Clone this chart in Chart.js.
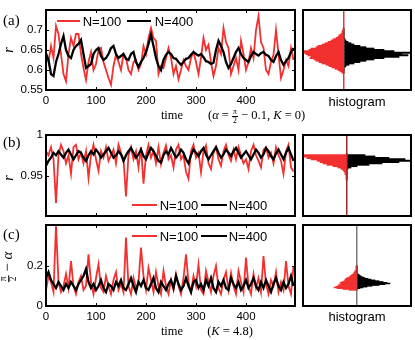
<!DOCTYPE html>
<html>
<head>
<meta charset="utf-8">
<script src="https://cdn.jsdelivr.net/npm/chart.js@4.4.0/dist/chart.umd.min.js"></script>
<style>
body { margin: 0; width: 415px; height: 340px; overflow: hidden; background: #fff; position: relative; font-family: "Liberation Sans", Arial, sans-serif; }
canvas { position: absolute; }
.t { position: absolute; white-space: nowrap; line-height: 1; color: #000; }
.serif { font-family: "Liberation Serif", "Times New Roman", serif; }
.c { transform: translate(-50%, -50%); }
.rot { transform: translate(-50%, -50%) rotate(-90deg); }
.leg { position: absolute; height: 0; }
.frac { display: inline-flex; flex-direction: column; vertical-align: middle; font-size: 0.62em; text-align: center; line-height: 1; }
.frac span:first-child { border-bottom: 0.8px solid #000; padding: 0 1px; }
</style>
</head>
<body>
<canvas id="seriesA" width="300" height="110" style="left:0;top:0"></canvas>
<canvas id="seriesB" width="300" height="111" style="left:0;top:125px"></canvas>
<canvas id="seriesC" width="300" height="111" style="left:0;top:215px"></canvas>
<canvas id="histA" width="118" height="90" style="left:298px;top:5px"></canvas>
<canvas id="histB" width="118" height="91" style="left:298px;top:130px"></canvas>
<canvas id="histC" width="118" height="91" style="left:298px;top:220px"></canvas>

<!-- panel letters and axis titles -->
<div class="t serif" style="left:3px;top:13px;font-size:15px">(a)</div>
<div class="t serif" style="left:3px;top:135px;font-size:15px">(b)</div>
<div class="t serif" style="left:3px;top:227px;font-size:15px">(c)</div>
<div class="t serif rot" style="left:9px;top:50px;font-size:14px;font-style:italic">r</div>
<div class="t serif rot" style="left:9px;top:178px;font-size:14px;font-style:italic">r</div>
<div class="t serif rot" style="left:9px;top:267px;font-size:15px"><span class="frac"><span>π</span><span>2</span></span> − <i>α</i></div>

<div class="t serif c" style="left:172px;top:115px;font-size:12.5px">time</div>
<div class="t serif" style="left:208px;top:108px;font-size:12.5px">(<i>α</i> = <span class="frac"><span>π</span><span>2</span></span> − 0.1, <i>K</i> = 0)</div>
<div class="t serif c" style="left:172px;top:331px;font-size:12.5px">time</div>
<div class="t serif c" style="left:230px;top:331px;font-size:12.5px">(<i>K</i> = 4.8)</div>
<div class="t c" style="left:357px;top:101px;font-size:13px">histogram</div>
<div class="t c" style="left:357px;top:316px;font-size:13px">histogram</div>

<!-- legends -->
<div class="leg" style="left:57px;top:20px;width:23px;border-top:2px solid #f23030"></div>
<div class="t c" style="left:102px;top:21px;font-size:13px">N=100</div>
<div class="leg" style="left:127px;top:20px;width:24px;border-top:2.5px solid #000"></div>
<div class="t c" style="left:174px;top:21px;font-size:13px">N=400</div>

<div class="leg" style="left:132px;top:204px;width:25px;border-top:2px solid #f23030"></div>
<div class="t c" style="left:179px;top:205px;font-size:13px">N=100</div>
<div class="leg" style="left:201px;top:204px;width:26px;border-top:2.5px solid #000"></div>
<div class="t c" style="left:248px;top:205px;font-size:13px">N=400</div>

<div class="leg" style="left:132px;top:235px;width:25px;border-top:2px solid #f23030"></div>
<div class="t c" style="left:179px;top:236px;font-size:13px">N=100</div>
<div class="leg" style="left:201px;top:235px;width:26px;border-top:2.5px solid #000"></div>
<div class="t c" style="left:248px;top:236px;font-size:13px">N=400</div>

<script>
// time axis: one sample every 5 time units
const times = Array.from({ length: 100 }, (_, i) => i * 5);
const xTicks = [0, 100, 200, 300, 400];

// (a) order parameter r, alpha = pi/2 - 0.1, K = 0
const redA = [0.645,0.62,0.66,0.63,0.71,0.69,0.64,0.59,0.572,0.64,
  0.68,0.66,0.69,0.69,0.64,0.605,0.575,0.62,0.645,0.6,
  0.615,0.65,0.655,0.62,0.6,0.58,0.563,0.61,0.638,0.62,
  0.6,0.64,0.63,0.6,0.59,0.62,0.625,0.6,0.615,0.66,
  0.64,0.68,0.705,0.68,0.673,0.59,0.61,0.605,0.63,0.655,
  0.63,0.59,0.61,0.577,0.6,0.625,0.61,0.6,0.63,0.645,
  0.62,0.59,0.63,0.68,0.65,0.663,0.62,0.585,0.61,0.655,
  0.64,0.705,0.67,0.655,0.59,0.61,0.63,0.6,0.673,0.64,
  0.6,0.62,0.655,0.63,0.7,0.735,0.67,0.655,0.6,0.59,
  0.62,0.638,0.7,0.64,0.58,0.6,0.625,0.61,0.655,0.625];
const blackA = [0.64,0.625,0.59,0.585,0.62,0.64,0.665,0.685,0.65,0.635,
  0.63,0.65,0.66,0.665,0.675,0.64,0.605,0.61,0.615,0.64,
  0.65,0.655,0.635,0.625,0.63,0.64,0.655,0.66,0.64,0.63,
  0.635,0.64,0.628,0.625,0.64,0.645,0.62,0.608,0.62,0.63,
  0.645,0.665,0.688,0.66,0.63,0.61,0.6,0.625,0.638,0.645,
  0.64,0.63,0.628,0.62,0.613,0.62,0.628,0.63,0.638,0.645,
  0.64,0.636,0.64,0.632,0.622,0.62,0.615,0.618,0.65,0.673,
  0.66,0.645,0.62,0.605,0.615,0.63,0.645,0.655,0.64,0.63,
  0.625,0.62,0.635,0.645,0.64,0.636,0.642,0.645,0.638,0.635,
  0.625,0.62,0.635,0.645,0.625,0.613,0.622,0.63,0.645,0.655];
const yTicksA = [0.55, 0.6, 0.65, 0.7];

// (b) order parameter r
const redB = [0.98,0.975,0.985,0.97,0.916,0.975,0.988,0.98,0.965,0.975,
  0.952,0.985,0.988,0.97,0.978,0.965,0.98,0.947,0.975,0.988,
  0.97,0.956,0.98,0.972,0.985,0.968,0.975,0.982,0.965,0.988,
  0.978,0.97,0.924,0.975,0.985,0.97,0.98,0.96,0.985,0.94,
  0.975,0.988,0.972,0.98,0.965,0.985,0.964,0.978,0.987,0.97,
  0.975,0.96,0.982,0.988,0.97,0.975,0.955,0.946,0.98,0.988,
  0.972,0.978,0.954,0.98,0.987,0.965,0.958,0.978,0.985,0.97,
  0.962,0.98,0.988,0.975,0.968,0.982,0.97,0.985,0.975,0.965,
  0.97,0.958,0.98,0.988,0.975,0.968,0.96,0.982,0.985,0.972,
  0.978,0.965,0.985,0.975,0.968,0.952,0.98,0.988,0.96,0.955];
const blackB = [0.962,0.968,0.972,0.978,0.975,0.98,0.976,0.972,0.978,0.982,
  0.976,0.97,0.975,0.98,0.978,0.972,0.968,0.975,0.98,0.976,
  0.982,0.978,0.972,0.976,0.98,0.984,0.978,0.972,0.975,0.98,
  0.976,0.968,0.975,0.98,0.984,0.978,0.972,0.976,0.982,0.974,
  0.97,0.978,0.984,0.98,0.974,0.968,0.966,0.975,0.98,0.976,
  0.984,0.978,0.972,0.976,0.982,0.978,0.97,0.965,0.975,0.982,
  0.978,0.974,0.98,0.984,0.976,0.97,0.975,0.98,0.985,0.978,
  0.972,0.976,0.982,0.978,0.974,0.98,0.984,0.978,0.972,0.976,
  0.98,0.975,0.97,0.976,0.982,0.978,0.972,0.976,0.984,0.98,
  0.974,0.97,0.977,0.982,0.976,0.97,0.978,0.984,0.976,0.968];
const yTicksB = [0.95, 1];

// (c) pi/2 - alpha, K = 4.8
const redC = [0.08,0.15,0.12,0.07,0.405,0.12,0.07,0.1,0.16,0.09,
  0.225,0.1,0.06,0.12,0.15,0.08,0.1,0.258,0.12,0.06,
  0.14,0.208,0.09,0.07,0.15,0.1,0.06,0.13,0.17,0.08,
  0.11,0.07,0.342,0.1,0.06,0.14,0.09,0.12,0.292,0.15,
  0.08,0.19,0.13,0.07,0.17,0.1,0.06,0.175,0.1,0.06,
  0.13,0.08,0.16,0.1,0.06,0.14,0.258,0.12,0.07,0.15,
  0.1,0.208,0.08,0.06,0.175,0.12,0.07,0.15,0.2,0.09,
  0.06,0.13,0.17,0.08,0.165,0.1,0.06,0.175,0.12,0.07,
  0.242,0.1,0.06,0.16,0.09,0.14,0.07,0.25,0.11,0.06,
  0.13,0.1,0.17,0.07,0.12,0.08,0.225,0.1,0.06,0.2];
const blackC = [0.14,0.17,0.13,0.11,0.09,0.12,0.1,0.08,0.11,0.09,
  0.12,0.1,0.08,0.11,0.13,0.15,0.185,0.12,0.09,0.11,
  0.08,0.1,0.13,0.09,0.07,0.11,0.1,0.08,0.12,0.1,
  0.13,0.09,0.08,0.11,0.14,0.1,0.07,0.12,0.1,0.13,
  0.09,0.08,0.11,0.14,0.09,0.07,0.12,0.1,0.08,0.11,
  0.13,0.09,0.15,0.11,0.08,0.1,0.14,0.1,0.07,0.12,
  0.13,0.09,0.11,0.08,0.13,0.1,0.14,0.09,0.07,0.12,
  0.1,0.13,0.09,0.08,0.14,0.11,0.09,0.12,0.08,0.1,
  0.13,0.09,0.11,0.14,0.1,0.08,0.12,0.09,0.13,0.1,
  0.07,0.11,0.14,0.1,0.08,0.12,0.09,0.11,0.15,0.1];
const yTicksC = [0, 0.2];

// histograms (bin centres and counts; red drawn to the left, black to the right)
const binsA = [0.565,0.57,0.575,0.58,0.585,0.59,0.595,0.6,0.605,0.61,0.615,0.62,0.625,0.63,0.635,0.64,0.645,
  0.65,0.655,0.66,0.665,0.67,0.675,0.68,0.685,0.69,0.695,0.7,0.705,0.71,0.715,0.72,0.725,0.73];
const redHistA = [2,4,6,9,12,15,18,22,25,28,30,34,33,36,38,41,40,35,33,28,26,22,19,16,13,11,8,6,5,3,2,2,1,1];
const blackHistA = [0,0,0,0,1,2,5,10,16,22,30,40,55,64,58,66,50,40,30,22,16,10,7,4,2,1,0,0,0,0,0,0,0,0];

const binsB = [0.9425,0.945,0.9475,0.95,0.9525,0.955,0.9575,0.96,0.9625,0.965,
  0.9675,0.97,0.9725,0.975,0.9775,0.98,0.9825,0.985,0.9875,0.99];
const redHistB = [1,1,1,1,2,2,3,4,6,9,14,20,24,27,30,36,40,44,43,0];
const blackHistB = [0,0,0,0,0,0,0,0,1,4,10,22,35,52,64,58,42,28,18,0];

const binsC = [0.05,0.055,0.06,0.065,0.07,0.075,0.08,0.085,0.09,0.095,0.1,0.105,0.11,0.115,0.12,0.125,
  0.13,0.135,0.14,0.145,0.15,0.155,0.16,0.165,0.17,0.175,0.18,0.185,0.19,0.195,0.2];
const redHistC = [8,14,20,23,21,18,19,17,16,17,15,13,12,12,11,10,8,7,6,5,4,3,3,2,2,1,1,1,1,1,1];
const blackHistC = [0,0,3,6,10,15,22,28,33,30,26,22,18,14,11,8,6,4,3,2,1,0,0,0,0,0,0,0,0,0,0];

const RED = '#f23030';

Chart.defaults.font.family = '"Liberation Sans", Arial, sans-serif';
Chart.defaults.font.size = 11;
Chart.defaults.color = '#000';
Chart.defaults.animation = false;

// thick box round the plot area, with short inward ticks on all sides
const framePlugin = {
    id: 'frame',
    afterDraw(chart, args, opts) {
        const { ctx, chartArea: a } = chart;
        ctx.save();
        ctx.strokeStyle = '#000';
        if (opts.ticks) {
            ctx.lineWidth = 1;
            const len = 3;
            ctx.beginPath();
            chart.scales.x.ticks.forEach(t => {
                const px = Math.round(chart.scales.x.getPixelForValue(t.value)) + 0.5;
                ctx.moveTo(px, a.top); ctx.lineTo(px, a.top + len);
                ctx.moveTo(px, a.bottom); ctx.lineTo(px, a.bottom - len);
            });
            chart.scales.y.ticks.forEach(t => {
                const py = Math.round(chart.scales.y.getPixelForValue(t.value)) + 0.5;
                ctx.moveTo(a.left, py); ctx.lineTo(a.left + len, py);
                ctx.moveTo(a.right, py); ctx.lineTo(a.right - len, py);
            });
            ctx.stroke();
        }
        ctx.lineWidth = 2;
        ctx.strokeRect(a.left, a.top, a.width, a.height);
        ctx.restore();
    }
};

function toPoints(values) {
    return times.map((t, i) => ({ x: t, y: values[i] }));
}

function makeSeries(id, red, black, yMin, yMax, yTicks, showXLabels) {
    return new Chart(document.getElementById(id).getContext('2d'), {
        type: 'line',
        data: {
            datasets: [
                { label: 'N=100', data: toPoints(red), borderColor: RED, borderWidth: 1.8, pointRadius: 0, order: 1 },
                { label: 'N=400', data: toPoints(black), borderColor: '#000', borderWidth: 2.3, pointRadius: 0, order: 0 }
            ]
        },
        options: {
            responsive: false,
            layout: { padding: { top: 10, right: 5, left: 0, bottom: 0 } },
            plugins: { legend: { display: false }, tooltip: { enabled: false }, frame: { ticks: true } },
            scales: {
                x: {
                    type: 'linear', min: 0, max: 498,
                    afterBuildTicks: s => { s.ticks = xTicks.map(v => ({ value: v })); },
                    afterFit: s => { s.height = 20; },
                    grid: { display: false, drawTicks: false },
                    border: { display: false },
                    ticks: { display: showXLabels, padding: 4, maxRotation: 0, font: { size: 11.5 } }
                },
                y: {
                    min: yMin, max: yMax,
                    afterBuildTicks: s => { s.ticks = yTicks.map(v => ({ value: v })); },
                    afterFit: s => { s.width = 46; },
                    grid: { display: false, drawTicks: false },
                    border: { display: false },
                    ticks: { padding: 3, font: { size: 11.5 }, callback: v => String(v) }
                }
            }
        },
        plugins: [framePlugin]
    });
}

function makeHist(id, bins, redCounts, blackCounts, yMin, yMax, xMin, xMax, midColor) {
    return new Chart(document.getElementById(id).getContext('2d'), {
        type: 'bar',
        data: {
            datasets: [
                { label: 'N=100', data: bins.map((b, i) => ({ x: -redCounts[i], y: b })), backgroundColor: RED, grouped: false },
                { label: 'N=400', data: bins.map((b, i) => ({ x: blackCounts[i], y: b })), backgroundColor: '#000', grouped: false }
            ]
        },
        options: {
            responsive: false,
            indexAxis: 'y',
            layout: { padding: 5 },
            datasets: { bar: { barPercentage: 1, categoryPercentage: 1, borderWidth: 0 } },
            plugins: { legend: { display: false }, tooltip: { enabled: false }, frame: { ticks: false } },
            scales: {
                x: {
                    type: 'linear', min: xMin, max: xMax,
                    afterBuildTicks: s => { s.ticks = [{ value: 0 }]; },
                    afterFit: s => { s.height = 0; },
                    ticks: { display: false },
                    border: { display: false },
                    grid: { drawTicks: false, color: midColor, lineWidth: 1.5 }
                },
                y: { type: 'linear', min: yMin, max: yMax, display: false }
            }
        },
        plugins: [framePlugin]
    });
}

makeSeries('seriesA', redA, blackA, 0.55, 0.75, yTicksA, true);
makeSeries('seriesB', redB, blackB, 0.9, 1, yTicksB, false);
makeSeries('seriesC', redC, blackC, 0, 0.405, yTicksC, true);

makeHist('histA', binsA, redHistA, blackHistA, 0.55, 0.75, -41, 67, '#e03a3a');
makeHist('histB', binsB, redHistB, blackHistB, 0.9, 1, -44, 64, '#9c2a22');
makeHist('histC', binsC, redHistC, blackHistC, 0, 0.405, -54, 54, '#7a7a7a');
</script>
</body>
</html>
